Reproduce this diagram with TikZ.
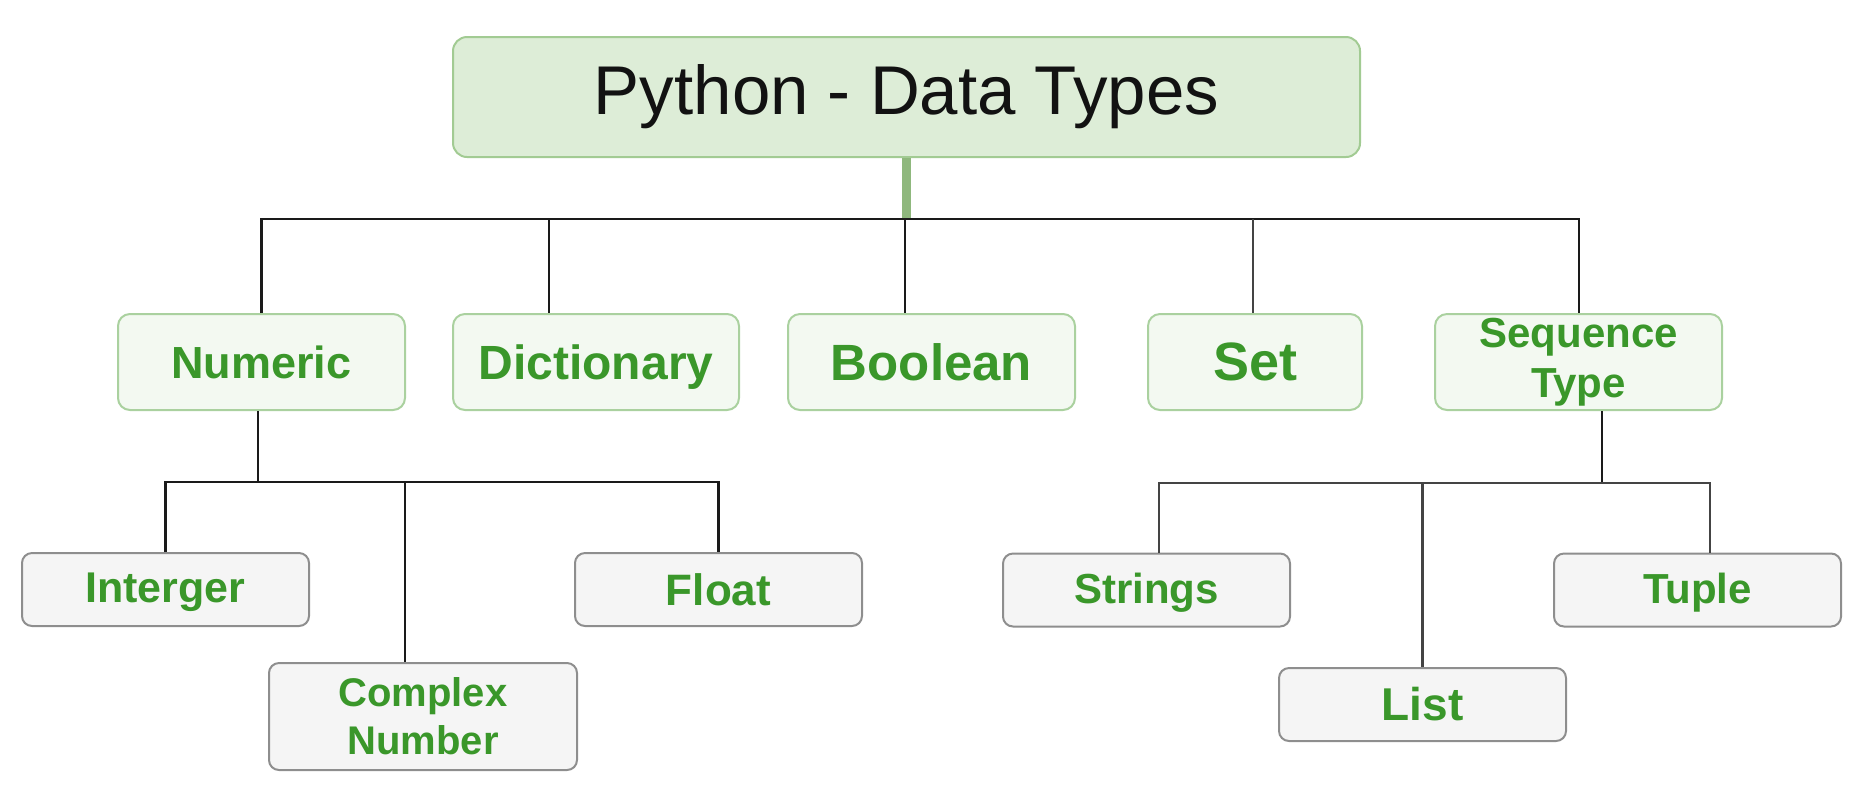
\documentclass[tikz,border=0pt]{standalone}
\usepackage{fontspec}
\setmainfont{Liberation Sans}
\definecolor{gtext}{HTML}{3A972A}
\definecolor{topfill}{HTML}{DDEDD7}
\definecolor{topline}{HTML}{A2CB93}
\definecolor{midfill}{HTML}{F3F9F1}
\definecolor{midline}{HTML}{AAD19F}
\definecolor{lowfill}{HTML}{F5F5F5}
\definecolor{lowline}{HTML}{8E8E8E}
\definecolor{stemcol}{HTML}{8FB87D}
\definecolor{buscol}{HTML}{1A1A1A}
\definecolor{buscolb}{HTML}{444444}
\begin{document}
\begin{tikzpicture}[x=0.5pt,y=-0.5pt,
  box/.style={draw, line width=1pt, inner sep=0pt, align=center, text=gtext},
  titlebox/.style={box, rounded corners=7pt, fill=topfill, draw=topline, text=black!93,
    minimum width=453.5pt, minimum height=60pt},
  midbox/.style={box, rounded corners=6pt, fill=midfill, draw=midline,
    minimum width=143.5pt, minimum height=48pt},
  lowbox/.style={box, rounded corners=5pt, fill=lowfill, draw=lowline,
    minimum width=143.5pt, minimum height=36.5pt},
  nodepth/.style={text depth=0pt},
  lowdepth/.style={text depth=2.2pt},
  bus/.style={draw=buscol, line width=1.1pt},
  busb/.style={draw=buscolb, line width=1.1pt},
  stem/.style={draw=stemcol, line width=4.5pt}]
\useasboundingbox (0,0) rectangle (1866,800);

% nodes
\node[titlebox, font=\fontsize{34.5}{41}\selectfont] (title) at (906.5,97) {Python - Data Types};

\node[midbox, font=\fontsize{22.5}{27}\selectfont\bfseries] (num) at (261.5,362) {Numeric};
\node[midbox, nodepth, minimum width=143pt, font=\fontsize{24}{29}\selectfont\bfseries] (dict) at (596,362) {Dictionary};
\node[midbox, font=\fontsize{25.5}{30}\selectfont\bfseries] (bool) at (931.5,362) {Boolean};
\node[midbox, minimum width=107pt, font=\fontsize{27}{32}\selectfont\bfseries] (set) at (1255,362) {Set};
\node[midbox, font=\fontsize{21}{25}\selectfont\bfseries] (seq) at (1578.5,362) {Sequence\\Type};

\node[lowbox, lowdepth, font=\fontsize{21.5}{26}\selectfont\bfseries] (int) at (165.5,589.5) {Interger};
\node[lowbox, font=\fontsize{22}{26}\selectfont\bfseries] (flt) at (718.5,589.5) {Float};
\node[lowbox, minimum width=154pt, minimum height=53.5pt, font=\fontsize{20}{24}\selectfont\bfseries] (cpx) at (423,716.5) {Complex\\Number};
\node[lowbox, lowdepth, font=\fontsize{21}{25}\selectfont\bfseries] (str) at (1146.5,590) {Strings};
\node[lowbox, lowdepth, font=\fontsize{21}{25}\selectfont\bfseries] (tup) at (1697.5,590) {Tuple};
\node[lowbox, font=\fontsize{23}{27}\selectfont\bfseries] (lst) at (1422.5,704.5) {List};

% junction points
\coordinate (hub) at (906.5,219);
\coordinate (busL) at (261.5,219);
\coordinate (busR) at (1579,219);
\coordinate (tDict) at (549,219);
\coordinate (tBool) at (905,219);
\coordinate (tSet) at (1253,219);

\coordinate (nHub) at (258,482);
\coordinate (nL) at (165.5,482);
\coordinate (nC) at (405,482);
\coordinate (nR) at (718.5,482);

\coordinate (sHub) at (1602,483);
\coordinate (sL) at (1159,483);
\coordinate (sM) at (1422.5,483);
\coordinate (sR) at (1710,483);

% connectors
\draw[stem] (title.south) -- (hub);
\draw[bus] (num.north) -- (busL) -- (busR) -- (busR |- seq.north);
\draw[bus] (tDict) -- (tDict |- dict.north);
\draw[bus] (tBool) -- (tBool |- bool.north);
\draw[busb] (tSet) -- (tSet |- set.north);

\draw[bus] (num.south -| nHub) -- (nHub);
\draw[bus] (int.north) -- (nL) -- (nR) -- (flt.north);
\draw[bus] (nC) -- (nC |- cpx.north);

\draw[bus] (seq.south -| sHub) -- (sHub);
\draw[busb] (str.north -| sL) -- (sL) -- (sR) -- (sR |- tup.north);
\draw[busb] (sM) -- (lst.north);
\end{tikzpicture}
\end{document}
